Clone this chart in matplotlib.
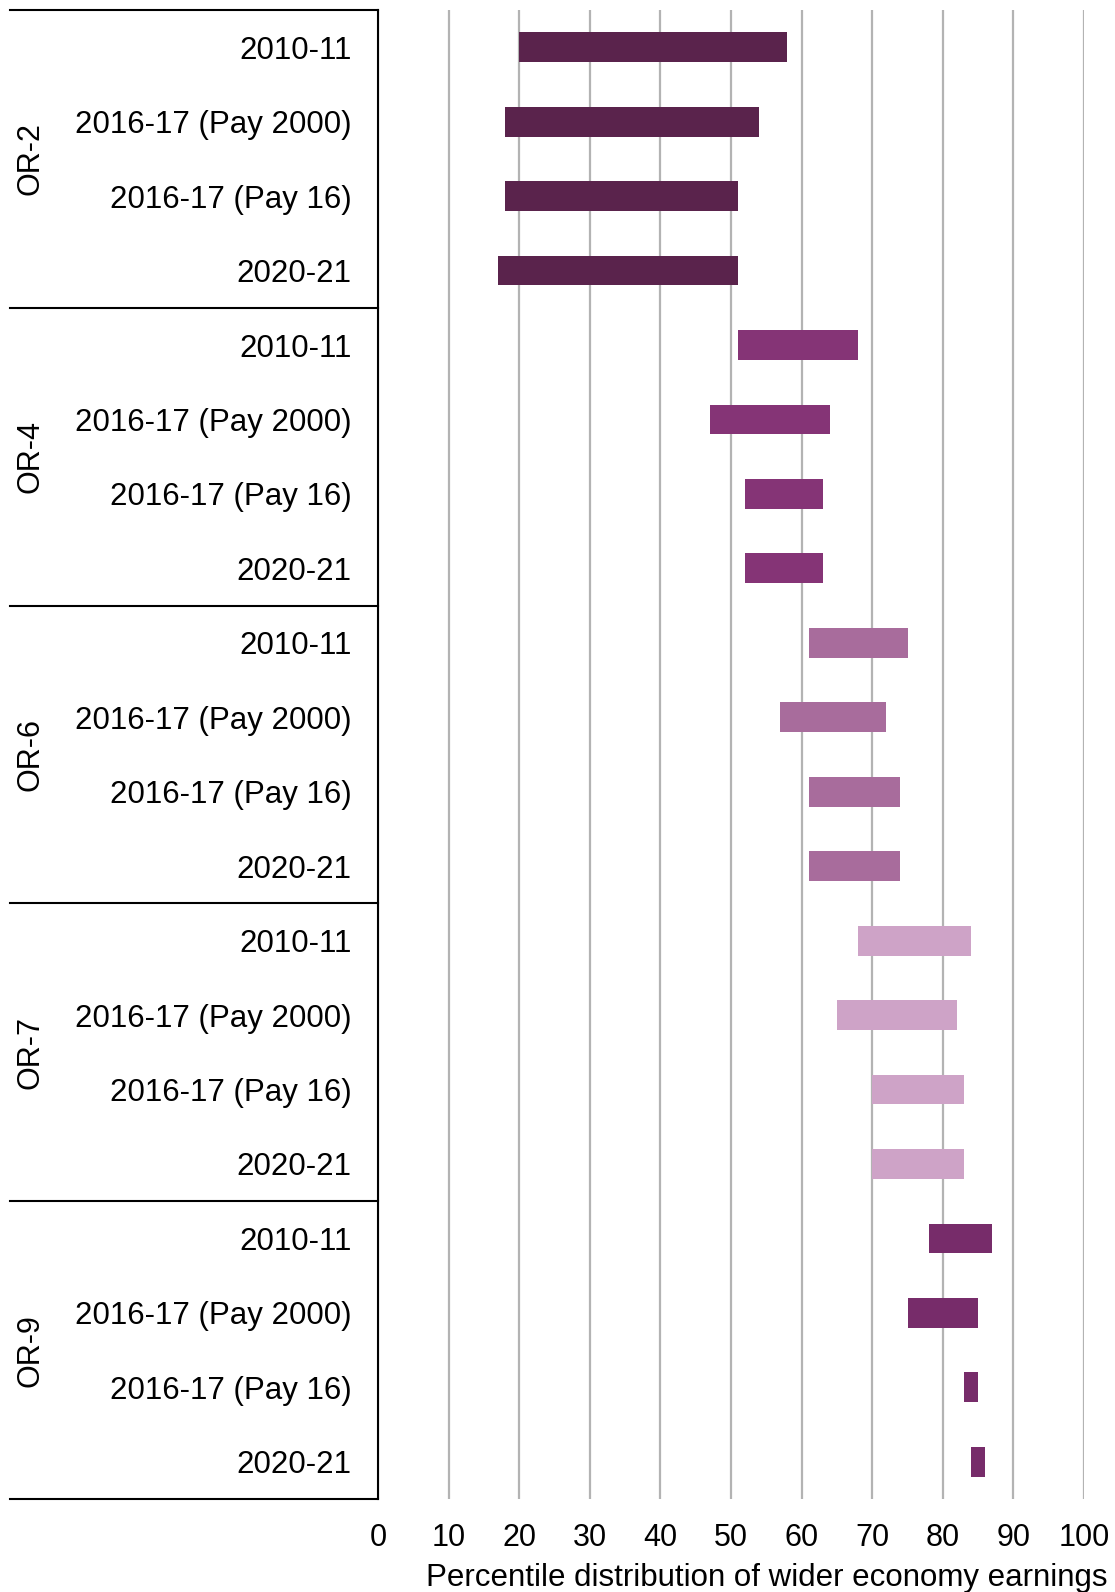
import numpy as np
import matplotlib
matplotlib.use("Agg")
import matplotlib.pyplot as plt
import matplotlib.transforms as mtransforms

plt.rcParams['font.family'] = ['Liberation Sans', 'DejaVu Sans']

# Kategorije
groups = ["OR-2", "OR-4", "OR-6", "OR-7", "OR-9"]
periods = ["2010-11", "2016-17 (Pay 2000)", "2016-17 (Pay 16)", "2020-21"]

# Raspon percentila (donja i gornja granica) po grupi
or2_low = [20, 18, 18, 17]
or2_high = [58, 54, 51, 51]
or4_low = [51, 47, 52, 52]
or4_high = [68, 64, 63, 63]
or6_low = [61, 57, 61, 61]
or6_high = [75, 72, 74, 74]
or7_low = [68, 65, 70, 70]
or7_high = [84, 82, 83, 83]
or9_low = [78, 75, 83, 84]
or9_high = [87, 85, 85, 86]

colors = ["#5a234c", "#853476", "#a86c9c", "#cea3c7", "#772c6a"]
x_ticks = list(range(0, 101, 10))

lows = [or2_low, or4_low, or6_low, or7_low, or9_low]
highs = [or2_high, or4_high, or6_high, or7_high, or9_high]

W, H = 1115, 1592
fig = plt.figure(figsize=(W / 100, H / 100), dpi=100)
left, right = 378 / W, 1084 / W
top, bottom = 1 - 10 / H, 1 - 1499 / H
ax = fig.add_axes([left, bottom, right - left, top - bottom])

n_per = len(periods)
for g, (lo, hi, c) in enumerate(zip(lows, highs, colors)):
    y = np.arange(n_per) + g * n_per
    ax.barh(y, np.array(hi) - np.array(lo), left=lo, height=0.4, color=c, zorder=3)

n_rows = len(groups) * n_per
ax.set_ylim(n_rows - 0.5, -0.5)
ax.set_xlim(0, 100)
ax.set_xticks(x_ticks)
ax.set_xticklabels([str(t) for t in x_ticks], fontsize=22)
ax.set_yticks(np.arange(n_rows))
ax.set_yticklabels(periods * len(groups), fontsize=22.5)
ax.tick_params(axis='y', length=0, pad=19)
ax.tick_params(axis='x', length=0, pad=17)

ax.xaxis.grid(True, color='#b3b3b3', linewidth=1.6, zorder=0)
ax.set_axisbelow(True)
for s in ['top', 'right', 'bottom']:
    ax.spines[s].set_visible(False)
ax.spines['left'].set_color('black')
ax.spines['left'].set_linewidth(1.5)
ax.spines['left'].set_zorder(4)

# Razdjelnici grupa i nazivi grupa
trans = mtransforms.blended_transform_factory(ax.transAxes, ax.transData)
x_start = (10 - 378) / (1084 - 378)
for g, name in enumerate(groups):
    yb = g * n_per - 0.5
    ax.plot([x_start, 0], [yb, yb], color='black', lw=1.5, transform=trans, clip_on=False)
    ax.text((30 - 378) / (1084 - 378), g * n_per + (n_per - 1) / 2, name, rotation=90,
            ha='center', va='center', fontsize=22, transform=trans)
ax.plot([x_start, 0], [n_rows - 0.5, n_rows - 0.5], color='black', lw=1.5,
        transform=trans, clip_on=False)

fig.text(1108 / W, 1 - 1578 / H, "Percentile distribution of wider economy earnings",
         ha='right', va='center', fontsize=22.5)

fig.savefig("out.png", dpi=100)
